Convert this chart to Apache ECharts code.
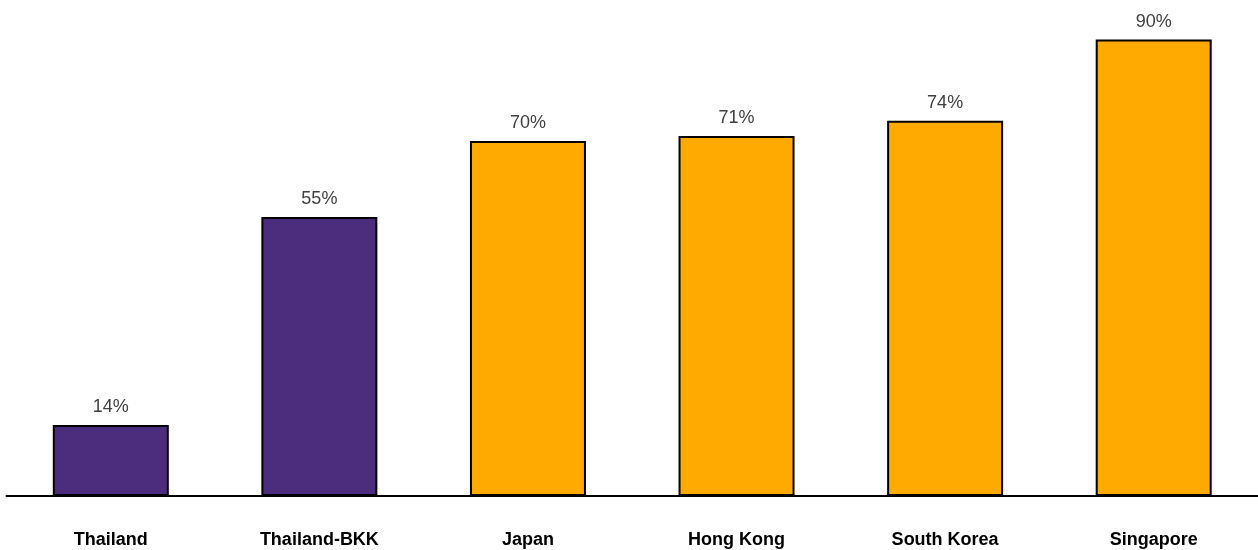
<!DOCTYPE html>
<html>
<head>
<meta charset="utf-8">
<script src="https://cdn.jsdelivr.net/npm/echarts@6/dist/echarts.min.js"></script>
<style>
  html, body { margin: 0; padding: 0; background: #fff; }
  #chart { width: 1258px; height: 550px; }
</style>
</head>
<body>
<div id="chart"></div>
<script>
// data
var categories = ['Thailand', 'Thailand-BKK', 'Japan', 'Hong Kong', 'South Korea', 'Singapore'];
var values = [14, 55, 70, 71, 74, 90];
var barColors = ['#4B2C7D', '#4B2C7D', '#FFAA00', '#FFAA00', '#FFAA00', '#FFAA00'];

var dom = document.getElementById('chart');
var myChart = echarts.init(dom);

var seriesData = values.map(function (v, i) {
    return { value: v, itemStyle: { color: barColors[i] } };
});

var option = {
    animation: false,
    grid: {
        left: 6.5,
        right: -4,
        top: 0,
        bottom: 54
    },
    xAxis: {
        type: 'category',
        data: categories,
        axisTick: { show: false },
        axisLine: { lineStyle: { color: '#000', width: 2 } },
        axisLabel: {
            interval: 0,
            margin: 35,
            color: '#000',
            fontFamily: 'Liberation Sans',
            fontWeight: 'bold',
            fontSize: 18
        }
    },
    yAxis: {
        type: 'value',
        min: 0,
        max: 97.8,
        show: false,
        splitLine: { show: false }
    },
    series: [{
        type: 'bar',
        data: seriesData,
        barWidth: 116,
        itemStyle: { borderColor: '#000', borderWidth: 2 },
        label: {
            show: true,
            position: 'top',
            distance: 9,
            formatter: '{c}%',
            color: '#404040',
            fontFamily: 'Liberation Sans',
            fontSize: 18
        }
    }]
};

myChart.setOption(option, true);
</script>
</body>
</html>
